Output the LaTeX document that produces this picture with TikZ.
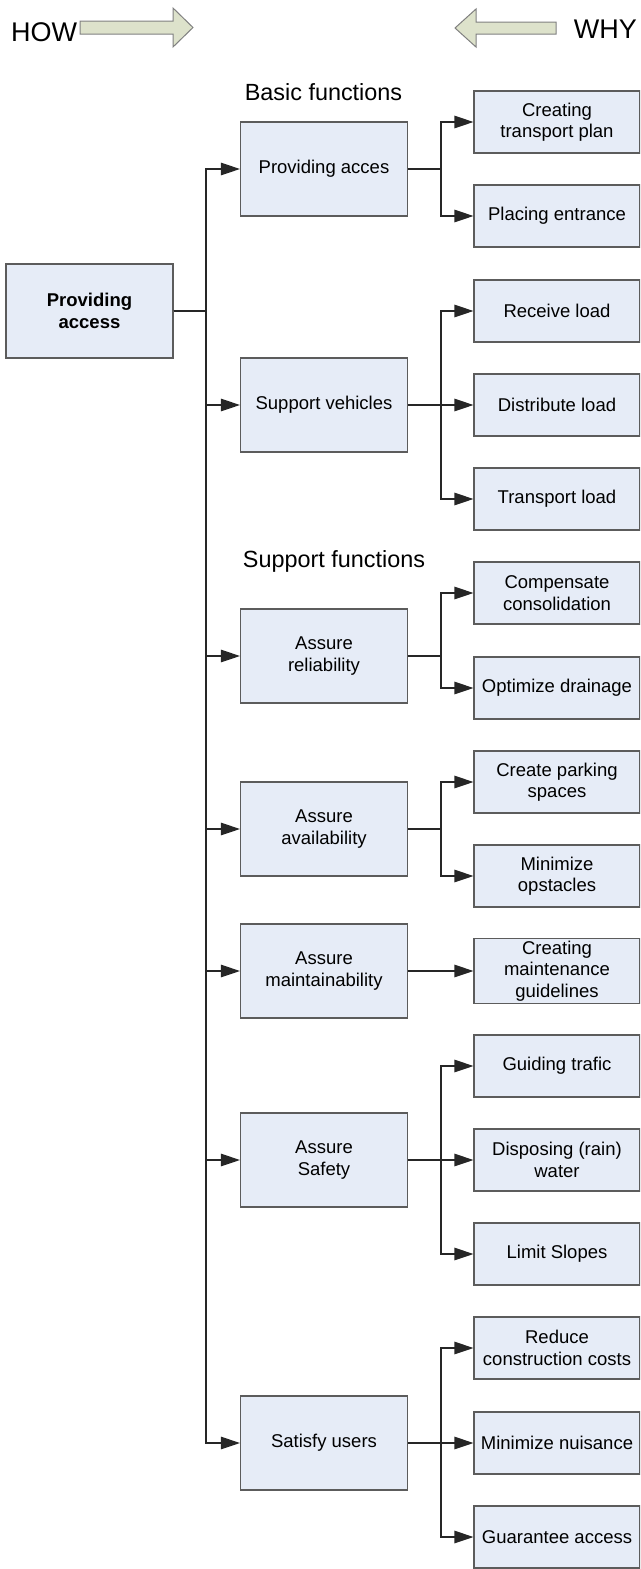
\documentclass[tikz,border=0pt]{standalone}
\usepackage{fontspec}
\setmainfont{Liberation Sans}
\usepackage{tikz}
\usetikzlibrary{arrows.meta, positioning}
\definecolor{box-blue}{HTML}{E6ECF7}
\definecolor{box-edge}{HTML}{5C5C5C}
\definecolor{hint-green}{HTML}{DDE2CB}
\definecolor{hint-edge}{HTML}{808080}

\tikzset{
  fnbox/.style={draw=box-edge, fill=box-blue, line width=1.1pt, align=center,
    minimum width=167pt, minimum height=94pt, inner sep=2pt,
    font=\fontsize{18.5}{21.5}\selectfont},
  subbox/.style={fnbox, minimum width=166pt, minimum height=62pt},
  link/.style={draw=black!85, line width=1.2pt, -{Triangle[length=19pt,width=12.5pt]}},
  hint/.style={draw=hint-edge, fill=hint-green, line width=1pt},
  heading/.style={anchor=base, font=\fontsize{23.4}{26}\selectfont},
}

\begin{document}
\begin{tikzpicture}[x=1pt, y=-1pt]
    \useasboundingbox (0,0) rectangle (640,1569);
    \clip (0,0) rectangle (640,1569);

    % HOW / WHY hints
    \node[anchor=base west, font=\fontsize{27}{30}\selectfont, inner sep=0pt] (how) at (11,41.5) {HOW};
    \draw[hint] (80,21) -- (173,21) -- (173,8) -- (193,27.5) -- (173,47) -- (173,34) -- (80,34) -- cycle;
    \draw[hint] (556,22) -- (476,22) -- (476,9) -- (455,28) -- (476,47) -- (476,34) -- (556,34) -- cycle;
    \node[anchor=base east, font=\fontsize{27}{30}\selectfont, inner sep=0pt] (why) at (637,38) {WHY};

    \node[heading] (basic) at (323.5,100) {Basic functions};
    \node[heading] (support) at (334,567) {Support functions};

    % Main function
    \node[fnbox, font=\fontsize{18.5}{21.5}\selectfont\bfseries] (root) at (89.5,311) {Providing\\access};
    \coordinate (hub) at (206,311);

    % Sub functions
    \foreach \name/\y/\txt in {pa/169/{Providing acces}, sv/405/{Support vehicles},
        ar/656/{Assure\\reliability}, aa/829/{Assure\\availability},
        am/971/{Assure\\maintainability}, as/1160/{Assure\\Safety},
        su/1443/{Satisfy users}} {
        \node[fnbox] (\name) at (324,\y) {\txt};
        \draw[link] (root.east) -- (hub) |- (\name.west);
    }

    % Means
    \foreach \name/\y/\txt in {ctp/122/{Creating\\transport plan}, pe/216/{Placing entrance},
        rl/311/{Receive load}, dl/405/{Distribute load}, tl/499/{Transport load},
        cc/593/{Compensate\\consolidation}, od/688/{Optimize drainage},
        cps/782/{Create parking\\spaces}, mo/876/{Minimize\\opstacles},
        cmg/971/{Creating\\maintenance\\guidelines}, gt/1066/{Guiding trafic},
        dw/1160/{Disposing (rain)\\water}, ls/1254/{Limit Slopes},
        rcc/1348/{Reduce\\construction costs}, mn/1443/{Minimize nuisance},
        ga/1537/{Guarantee access}} {
        \node[subbox] (\name) at (557,\y) {\txt};
    }

    \foreach \from/\to in {pa/ctp, pa/pe, sv/rl, sv/dl, sv/tl, ar/cc, ar/od,
        aa/cps, aa/mo, am/cmg, as/gt, as/dw, as/ls, su/rcc, su/mn, su/ga} {
        \draw[link] (\from.east) -- ++(33,0) |- (\to.west);
    }
\end{tikzpicture}
\end{document}
